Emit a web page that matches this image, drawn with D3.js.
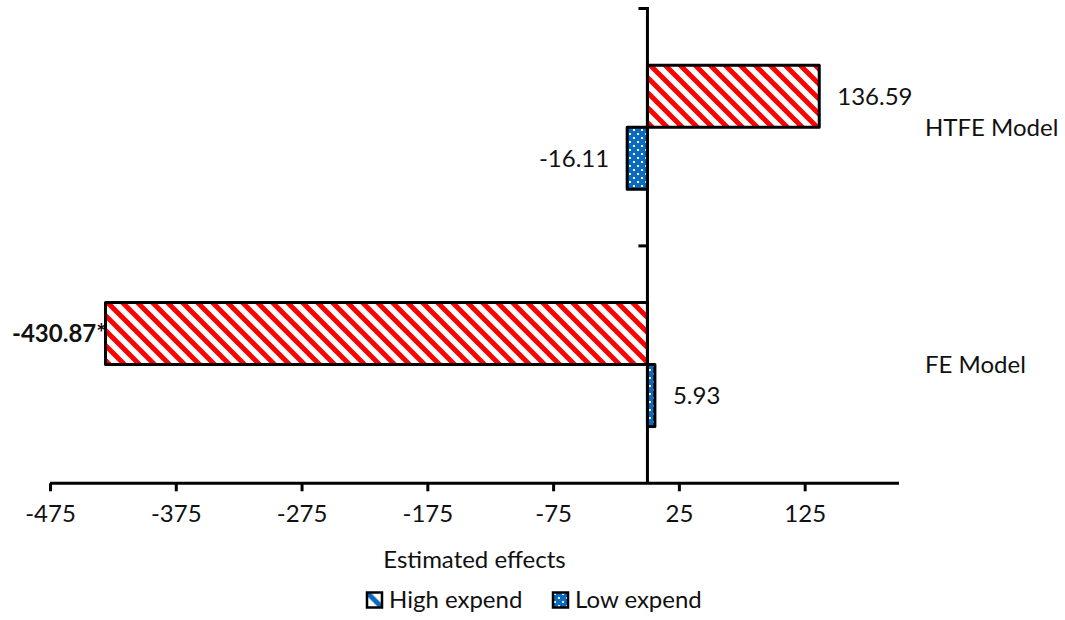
<!DOCTYPE html>
<html>
<head>
<meta charset="utf-8">
<script src="https://cdn.jsdelivr.net/npm/d3@7"></script>
<style>
  html, body { margin: 0; padding: 0; background: #fff; }
  svg text { font-family: Lato, "Open Sans", sans-serif; fill: #111; }
</style>
</head>
<body>
<svg id="chart" width="1065" height="620"></svg>
<script>
// Model categories (top to bottom) and the two expenditure groups
const categories = ["HTFE Model", "FE Model"];
const seriesNames = ["High expend", "Low expend"];

// Estimated effects per model
const highExpend = [136.59, -430.87];
const lowExpend = [-16.11, 5.93];

// Value labels as printed (asterisk marks significance)
const highLabels = ["136.59", "-430.87*"];
const lowLabels = ["-16.11", "5.93"];
const highSignificant = [false, true];
const lowSignificant = [false, false];

// Horizontal axis
const xTicks = [-475, -375, -275, -175, -75, 25, 125];
const xDomain = [-475, 200];
const xTitle = "Estimated effects";

const svg = d3.select("#chart");
const fontSize = 24;

const x = d3.scaleLinear().domain(xDomain).range([50, 899]);
const y = d3.scaleBand().domain(categories).range([8.5, 483.3]).paddingInner(0).paddingOuter(0);
const ySub = d3.scaleBand().domain(seriesNames).range([0, y.bandwidth()]).paddingInner(0).paddingOuter(0.915);

// Fill patterns
const defs = svg.append("defs");
const hatch = defs.append("pattern")
  .attr("id", "hatchRed").attr("patternUnits", "userSpaceOnUse")
  .attr("width", 15).attr("height", 15);
hatch.append("rect").attr("width", 15).attr("height", 15).attr("fill", "#fff");
hatch.append("path")
  .attr("d", "M-4,-4L19,19M-4,11L4,19M11,-4L19,4")
  .attr("stroke", "#ff0000").attr("stroke-width", 5).attr("fill", "none");

const dots = defs.append("pattern")
  .attr("id", "dotsBlue").attr("patternUnits", "userSpaceOnUse")
  .attr("width", 8).attr("height", 8);
dots.append("rect").attr("width", 8).attr("height", 8).attr("fill", "#0a6cc0");
dots.append("rect").attr("x", 1).attr("y", 1).attr("width", 2).attr("height", 2).attr("fill", "#fff");
dots.append("rect").attr("x", 5).attr("y", 5).attr("width", 2).attr("height", 2).attr("fill", "#fff");

const legendHatch = defs.append("pattern")
  .attr("id", "hatchLegend").attr("patternUnits", "objectBoundingBox")
  .attr("width", 1).attr("height", 1);
legendHatch.append("rect").attr("width", 15).attr("height", 15).attr("fill", "#fff");
legendHatch.append("path").attr("d", "M0,0L15,15").attr("stroke", "#0a6cc0").attr("stroke-width", 5);

const fills = { "High expend": "url(#hatchRed)", "Low expend": "url(#dotsBlue)" };

// Flatten rows for drawing
const rows = [];
categories.forEach((c, i) => {
  rows.push({ cat: c, series: "High expend", value: highExpend[i], label: highLabels[i], bold: highSignificant[i] });
  rows.push({ cat: c, series: "Low expend", value: lowExpend[i], label: lowLabels[i], bold: lowSignificant[i] });
});

// Bars
svg.append("g").selectAll("rect").data(rows).join("rect")
  .attr("x", d => x(Math.min(0, d.value)))
  .attr("y", d => y(d.cat) + ySub(d.series))
  .attr("width", d => Math.abs(x(d.value) - x(0)))
  .attr("height", ySub.bandwidth())
  .attr("fill", d => fills[d.series])
  .attr("stroke", "#000").attr("stroke-width", 3).attr("stroke-linejoin", "round");

// Value labels
const labels = svg.append("g").selectAll("text").data(rows).join("text")
  .attr("y", d => y(d.cat) + ySub(d.series) + ySub.bandwidth() / 2)
  .attr("dy", "0.35em")
  .attr("font-size", fontSize)
  .attr("font-weight", d => d.bold ? "bold" : "normal")
  .attr("x", d => d.value >= 0 ? x(d.value) + 18 : x(d.value) - 18)
  .attr("text-anchor", d => d.value >= 0 ? "start" : "end")
  .text(d => d.label);
labels.each(function() {
  const b = this.getBBox();
  if (b.x < 12) d3.select(this).attr("text-anchor", "start").attr("x", 12);
});

// Horizontal axis
const xAxis = svg.append("g")
  .attr("transform", `translate(0,${y.range()[1]})`)
  .call(d3.axisBottom(x).tickValues(xTicks).tickSize(8).tickPadding(14).tickFormat(d => String(d)));
xAxis.attr("font-family", null);
xAxis.select(".domain").attr("stroke", "#000").attr("stroke-width", 3).attr("d", `M${x.range()[0]},0H${x.range()[1]}`);
xAxis.selectAll(".tick line").attr("stroke", "#000").attr("stroke-width", 3);
xAxis.selectAll(".tick text").attr("font-size", fontSize).attr("fill", "#111");

// Vertical axis at zero with category boundary ticks
const yAxisG = svg.append("g").attr("transform", `translate(${x(0)},0)`);
yAxisG.append("line").attr("y1", y.range()[0] - 1.5).attr("y2", y.range()[1])
  .attr("stroke", "#000").attr("stroke-width", 3);
const boundaries = categories.map(c => y(c));
yAxisG.selectAll("line.tick").data(boundaries).join("line").attr("class", "tick")
  .attr("x1", -9).attr("x2", 0).attr("y1", d => d).attr("y2", d => d)
  .attr("stroke", "#000").attr("stroke-width", 3);

// Category labels on the right
svg.append("g").selectAll("text").data(categories).join("text")
  .attr("x", 925).attr("y", d => y(d) + y.bandwidth() / 2)
  .attr("dy", "0.35em").attr("font-size", fontSize)
  .text(d => d);

// Axis title
svg.append("text")
  .attr("x", (x.range()[0] + x.range()[1]) / 2).attr("y", 560)
  .attr("dy", "0.35em").attr("text-anchor", "middle").attr("font-size", fontSize)
  .text(xTitle);

// Legend
const legendFills = { "High expend": "url(#hatchLegend)", "Low expend": "url(#dotsBlue)" };
const legendX = [367, 553];
const legend = svg.append("g").selectAll("g").data(seriesNames).join("g")
  .attr("transform", (d, i) => `translate(${legendX[i]},600)`);
legend.append("rect").attr("x", 0).attr("y", -7.5).attr("width", 15).attr("height", 15)
  .attr("fill", d => legendFills[d]).attr("stroke", "#000").attr("stroke-width", 2.5);
legend.append("text").attr("x", 22).attr("dy", "0.35em").attr("font-size", fontSize).text(d => d);
</script>
</body>
</html>
